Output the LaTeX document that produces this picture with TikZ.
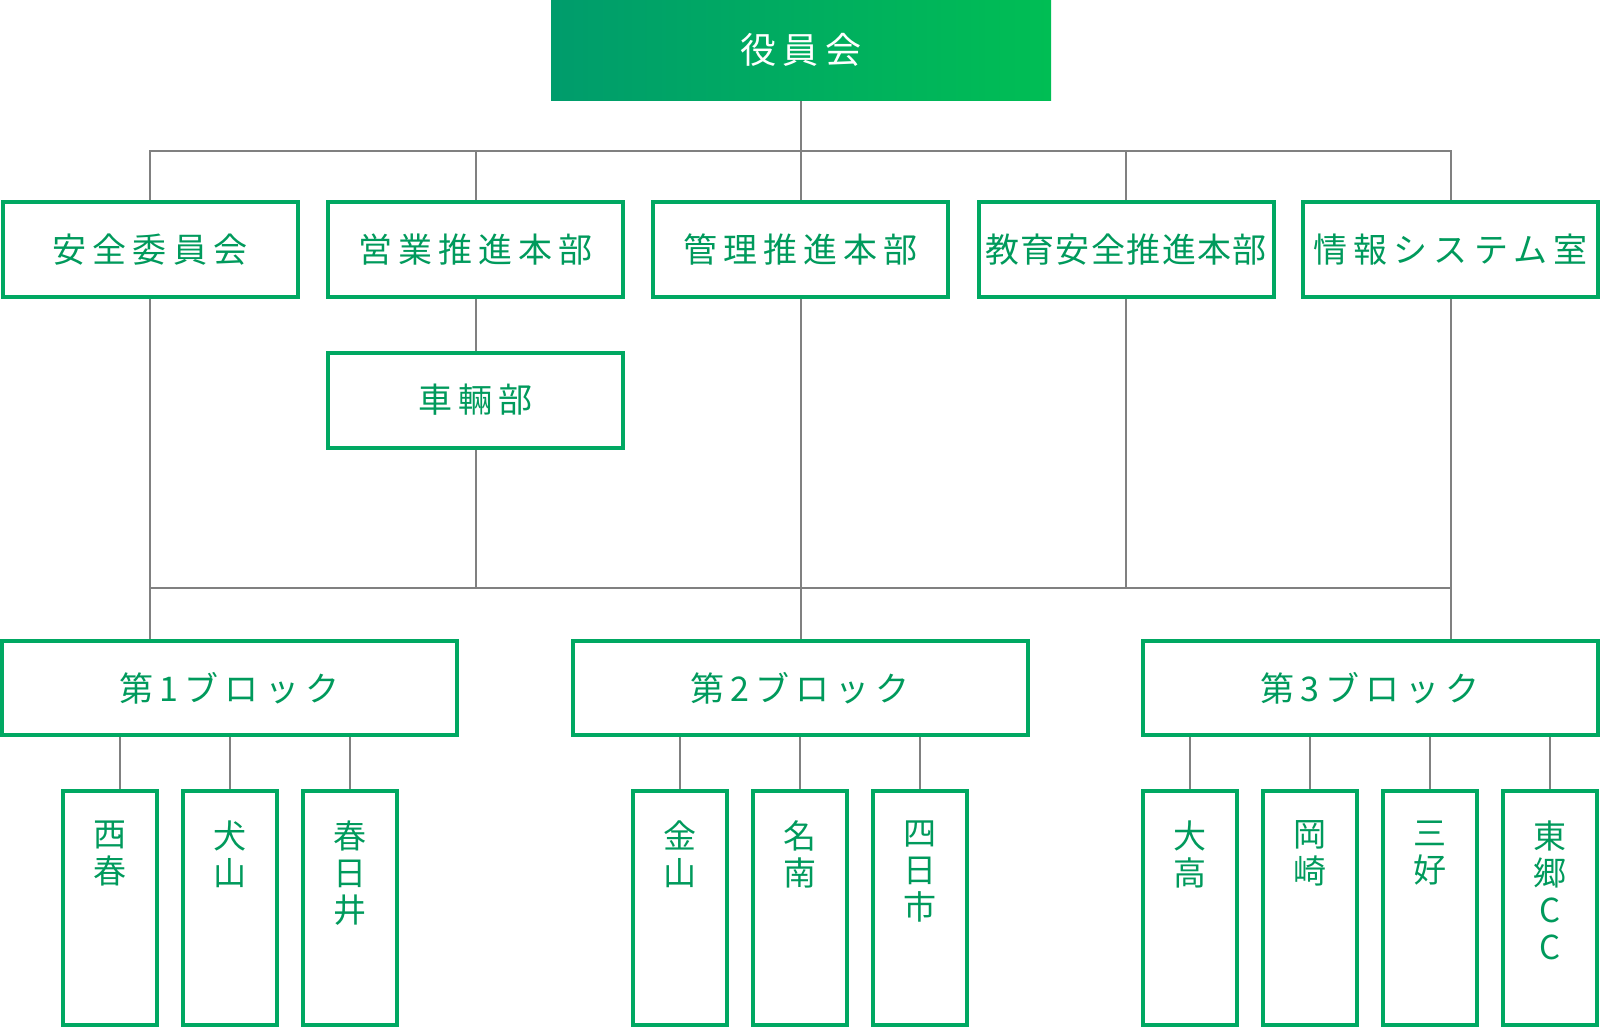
\documentclass[tikz,border=0pt]{standalone}
\usepackage{fontspec}
\newfontfamily\jp{Noto Sans CJK JP}
\newfontfamily\jpwide[LetterSpace=18]{Noto Sans CJK JP}
\newfontfamily\jptight[LetterSpace=4]{Noto Sans CJK JP}
\usetikzlibrary{backgrounds}
\definecolor{frame}{RGB}{0,168,98}
\definecolor{ink}{RGB}{0,154,92}
\definecolor{wirec}{RGB}{128,128,128}
\definecolor{gradL}{RGB}{0,156,108}
\definecolor{gradR}{RGB}{0,190,84}
\tikzset{
  board/.style={left color=gradL, right color=gradR, minimum width=500pt,
    minimum height=100pt, inner sep=0pt, text=white,
    font=\jpwide\fontsize{36}{40}\selectfont},
  dept/.style={draw=frame, line width=4pt, fill=white, minimum width=295pt,
    minimum height=95pt, inner sep=0pt, text=ink,
    font=\jpwide\fontsize{34}{40}\selectfont},
  block/.style={dept, minimum width=455pt, minimum height=94pt},
  branch/.style={draw=frame, line width=4pt, fill=white, minimum width=94pt,
    minimum height=234pt, inner sep=0pt, text=ink},
  wire/.style={draw=wirec, line width=2pt}
}
\newcommand\tate[1]{\parbox[c][234pt][t]{90pt}{\centering
  \jp\fontsize{33}{37}\selectfont\vspace*{30pt}#1\par}}

\begin{document}
\begin{tikzpicture}[x=1pt,y=-1pt]
  \useasboundingbox (0,0) rectangle (1600,1028);

  % Board and head offices.
  \node[board] (board) at (801,50) {役員会};
  \node[dept] (anzen)  at (150,249.5)    {安全委員会};
  \node[dept] (eigyo)  at (475.5,249.5)  {営業推進本部};
  \node[dept] (kanri)  at (800.5,249.5)  {管理推進本部};
  \node[dept, font=\jptight\fontsize{34}{40}\selectfont] (kyoiku)
    at (1126,249.5) {教育安全推進本部};
  \node[dept] (joho)   at (1450.5,249.5) {情報システム室};
  \node[dept] (sharyo) at (475.5,400)    {車輛部};

  % Blocks.
  \node[block] (block1) at (229.5,688) {第1ブロック};
  \node[block] (block2) at (800,688)   {第2ブロック};
  \node[block] (block3) at (1370,688)  {第3ブロック};

  % Branches.
  \node[branch] (seishun)   at (110,908)   {\tate{西\\春}};
  \node[branch] (inuyama)   at (229.5,908) {\tate{犬\\山}};
  \node[branch] (kasugai)   at (349.5,908) {\tate{春\\日\\井}};
  \node[branch] (kanayama)  at (679.5,908) {\tate{金\\山}};
  \node[branch] (meinan)    at (799.5,908) {\tate{名\\南}};
  \node[branch] (yokkaichi) at (919.5,908) {\tate{四\\日\\市}};
  \node[branch] (odaka)     at (1190,908)  {\tate{大\\高}};
  \node[branch] (okazaki)   at (1310,908)  {\tate{岡\\崎}};
  \node[branch] (miyoshi)   at (1430,908)  {\tate{三\\好}};
  \node[branch] (togo)      at (1550,908)  {\tate{東\\郷\\C\\C}};

  % Connectors.
  \begin{scope}[on background layer]
    \draw[wire] (board.south) -- ++(0,51) coordinate (hubA);
    \draw[wire] (anzen.north) |- (hubA) -| (joho.north);
    \foreach \n in {eigyo,kanri,kyoiku}
      \draw[wire] (\n.north) -- (\n.north |- hubA);
    \draw[wire] (eigyo.south) -- (sharyo.north);
    \coordinate (hubB) at (0,588);
    \draw[wire] (anzen.south |- hubB) -- (joho.south |- hubB);
    \draw[wire] (anzen.south) -- (anzen.south |- block1.north);
    \draw[wire] (kanri.south) -- (kanri.south |- block2.north);
    \draw[wire] (joho.south) -- (joho.south |- block3.north);
    \draw[wire] (sharyo.south) -- (sharyo.south |- hubB);
    \draw[wire] (kyoiku.south) -- (kyoiku.south |- hubB);
    \draw[wire] ([xshift=10pt]seishun.north) -- ([xshift=10pt]seishun.north |- block1.south);
    \foreach \b/\l in {block1/inuyama,block1/kasugai,block2/kanayama,
        block2/meinan,block2/yokkaichi,block3/odaka,block3/okazaki,
        block3/miyoshi,block3/togo}
      \draw[wire] (\l.north) -- (\l.north |- \b.south);
  \end{scope}
\end{tikzpicture}
\end{document}
